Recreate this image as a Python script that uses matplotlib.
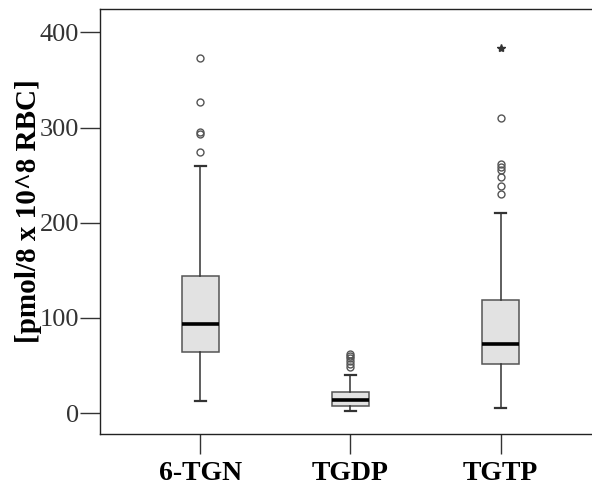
import matplotlib
matplotlib.use("Agg")
import matplotlib.pyplot as plt

categories = ["6-TGN", "TGDP", "TGTP"]
whislo = [12.6, 1.8, 4.9]
q1 = [64.4, 7.7, 51.8]
med = [93.8, 13.3, 72.1]
q3 = [143.6, 22.4, 119.3]
whishi = [259.6, 39.9, 210.3]
outliers = [
    [373, 327, 295, 293, 274],
    [62.5, 60, 57.5, 54.5, 51.5, 48.5],
    [310, 262, 259, 255, 248, 239, 230],
]
extremes = [[], [], [384]]
yticks = [0, 100, 200, 300, 400]
ylabel = "[pmol/8 x 10^8 RBC]"

fig = plt.figure(figsize=(5.92, 4.86), dpi=100)
ax = fig.add_axes([100/592, (486-434)/486, 1 - 100/592, (434-9.5)/486])

stats = []
for i, c in enumerate(categories):
    stats.append(dict(label=c, whislo=whislo[i], q1=q1[i], med=med[i],
                      q3=q3[i], whishi=whishi[i], fliers=outliers[i]))

pos = [1, 2, 3]
ax.bxp(stats, positions=pos, widths=0.25, capwidths=0.07, patch_artist=True,
       boxprops=dict(facecolor="#e2e2e2", edgecolor="#555555", linewidth=1.1),
       whiskerprops=dict(color="#333333", linewidth=1.1),
       capprops=dict(color="#333333", linewidth=1.6),
       medianprops=dict(color="black", linewidth=2.6),
       flierprops=dict(marker="o", markerfacecolor="none", markeredgecolor="#555555",
                       markersize=5, markeredgewidth=1.0, linestyle="none"))
for i, ex in enumerate(extremes):
    if ex:
        ax.plot([pos[i]] * len(ex), ex, linestyle="none", marker="*",
                color="#333333", markersize=6)

ax.set_xlim(1 - 101/151, 3 + 92/151)
ax.set_ylim(-22, 424)
ax.set_yticks(yticks)
ax.set_yticklabels([str(t) for t in yticks], fontfamily="Liberation Serif", fontsize=19, color="#333333")
ax.set_xticks(pos)
ax.set_xticklabels(categories, fontfamily="Liberation Serif", fontsize=20, fontweight="bold")
ax.tick_params(axis="y", length=14.5, width=1.0, color="#333333", pad=0.5)
ax.tick_params(axis="x", length=14.5, width=1.0, color="#333333", pad=5)
ax.spines["right"].set_visible(False)
for s in ["left", "bottom", "top"]:
    ax.spines[s].set_color("#222222")
    ax.spines[s].set_linewidth(1.0)
fig.text(29/592, 1 - 211/486, ylabel, rotation=90, ha="center", va="center",
         fontfamily="Liberation Serif", fontsize=21, fontweight="bold")

fig.savefig("out.png", dpi=100)
